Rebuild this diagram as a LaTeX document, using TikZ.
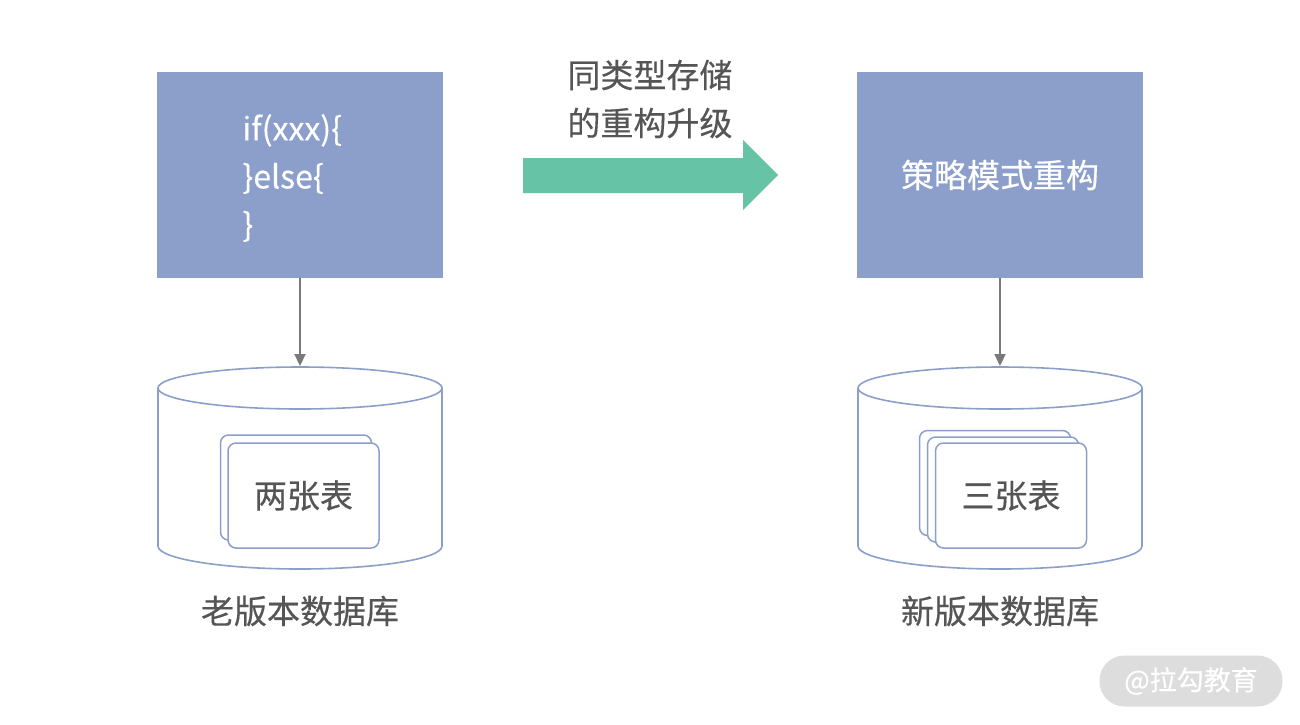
\documentclass[tikz,border=0pt]{standalone}
\usepackage{fontspec}
\setmainfont{Noto Sans CJK SC}[FakeBold=0.4]
\usepackage{tikz}
\usetikzlibrary{arrows.meta,positioning}

\definecolor{boxblue}{HTML}{8C9FCB}
\definecolor{arrowgreen}{HTML}{66C3A5}
\definecolor{txtgray}{HTML}{555555}
\definecolor{wmgray}{HTML}{DDDDDD}

\begin{document}
\begin{tikzpicture}[
            x=1pt,y=-1pt,
            codebox/.style={fill=boxblue,minimum width=286,minimum height=206,inner sep=0,text=white,font=\fontsize{33}{48}\selectfont},
            card/.style={draw=boxblue,line width=1.5,fill=white,rounded corners=8,minimum width=151,minimum height=105,inner sep=0},
            lab/.style={text=txtgray,font=\fontsize{33}{48}\selectfont},
            db/.style={draw=boxblue,line width=1.6,fill=white},
            link/.style={draw=gray!95!black,line width=2,-{Triangle[length=12,width=11]}}
          ]
          \useasboundingbox (0,0) rectangle (1300,724);

          %boxes
          \node[codebox] (old) at (300,175) {};
          \node[anchor=west,align=left,text=white,font=\fontsize{32}{48}\selectfont] (code) at (239,178) {if(xxx)\{\\\}else\{\\\}};
          \node[codebox] (new) at (1000,175) {策略模式重构};

          %upgrade arrow
          \fill[arrowgreen] (523,158) -- (743,158) -- (743,140) -- (778,175) -- (743,210) -- (743,193) -- (523,193) -- cycle;
          \node[lab,align=center] (upgrade) at (650,99) {同类型存储\\的重构升级};

          %databases
          \path[db] (158,388) -- (158,546) arc[start angle=180,end angle=0,x radius=142,y radius=23] -- (442,388);
          \path[db] (300,388) ellipse[x radius=142,y radius=21];
          \coordinate (olddb) at (300,366);
          \path[db] (858,388) -- (858,546) arc[start angle=180,end angle=0,x radius=142,y radius=23] -- (1142,388);
          \path[db] (1000,388) ellipse[x radius=142,y radius=21];
          \coordinate (newdb) at (1000,366);

          %tables
          \node[card] (old2) at (296,487.5) {};
          \node[card,lab] (old1) at (303.5,495.5) {两张表};
          \node[card] (new3) at (995,483) {};
          \node[card] (new2) at (1003,489.5) {};
          \node[card,lab] (new1) at (1011,495.5) {三张表};

          %labels
          \node[lab] (oldlab) at (300,611) {老版本数据库};
          \node[lab] (newlab) at (1000,611) {新版本数据库};

          \path[link] (old.south) -- (olddb);
          \path[link] (new.south) -- (newdb);

          %watermark
          \node[fill=wmgray,rounded corners=25,minimum width=183,minimum height=51,text=white,font=\fontsize{27}{30}\selectfont] (mark) at (1191,681) {@拉勾教育};
      \end{tikzpicture}
\end{document}
